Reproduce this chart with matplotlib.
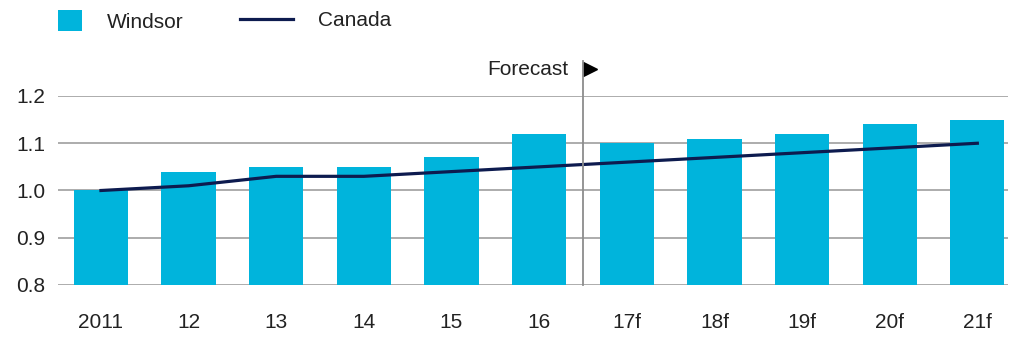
import matplotlib.pyplot as plt
from matplotlib.patches import Patch
from matplotlib.lines import Line2D
import numpy as np

plt.rcParams['font.family'] = ['Liberation Sans', 'DejaVu Sans']

years = ['2011', '12', '13', '14', '15', '16', '17f', '18f', '19f', '20f', '21f']
windsor = [1.00, 1.04, 1.05, 1.05, 1.07, 1.12, 1.10, 1.11, 1.12, 1.14, 1.15]
canada = [1.00, 1.01, 1.03, 1.03, 1.04, 1.05, 1.06, 1.07, 1.08, 1.09, 1.10]

bar_color = '#00b4dc'
line_color = '#0d1b4f'
txt = '#222222'
fs = 15

x = np.arange(len(years))

fig = plt.figure(figsize=(10.09, 3.37), dpi=100)
ax = fig.add_axes([58 / 1009, 1 - 285 / 337, 950 / 1009, 189 / 337])

ax.bar(x, windsor, width=0.62, color=bar_color, zorder=2)
ax.plot(x, canada, color=line_color, lw=2.3, zorder=3)

ax.set_ylim(0.8, 1.2)
ax.set_yticks([0.8, 0.9, 1.0, 1.1, 1.2])
ax.set_yticklabels(['0.8', '0.9', '1.0', '1.1', '1.2'])
ax.set_xlim(-0.49, 10.35)
ax.set_xticks(x)
ax.set_xticklabels(years)
ax.yaxis.grid(True, color='#a6a6a6', lw=1.3, zorder=0)
ax.set_axisbelow(True)
for s in ax.spines.values():
    s.set_visible(False)
ax.tick_params(length=0, labelsize=fs, colors=txt)
ax.tick_params(axis='x', pad=20)
ax.tick_params(axis='y', pad=9)

# forecast divider
ax.plot([5.5, 5.5], [0.8, 1.275], color='#8c8c8c', lw=1.3, clip_on=False, zorder=4)
ax.text(5.33, 1.257, 'Forecast', ha='right', va='center', fontsize=fs, color=txt)
ax.plot([5.58], [1.258], marker='>', color='black', ms=10, clip_on=False)

# legend: two pieces so the square and the line keep their own sizes
h1 = Patch(facecolor=bar_color, edgecolor='none')
h2 = Line2D([], [], color=line_color, lw=2.3)
fig.legend([h1], ['Windsor'], loc='center left',
           bbox_to_anchor=(58 / 1009, 1 - 21 / 337), frameon=False,
           fontsize=fs, handlelength=1.15, handleheight=1.15,
           handletextpad=1.2, borderpad=0, borderaxespad=0, labelcolor=txt)
fig.legend([h2], ['Canada'], loc='center left',
           bbox_to_anchor=(240 / 1009, 1 - 21 / 337), frameon=False,
           fontsize=fs, handlelength=2.55, handletextpad=1.2,
           borderpad=0, borderaxespad=0, labelcolor=txt)

fig.savefig('out.png', dpi=100)
